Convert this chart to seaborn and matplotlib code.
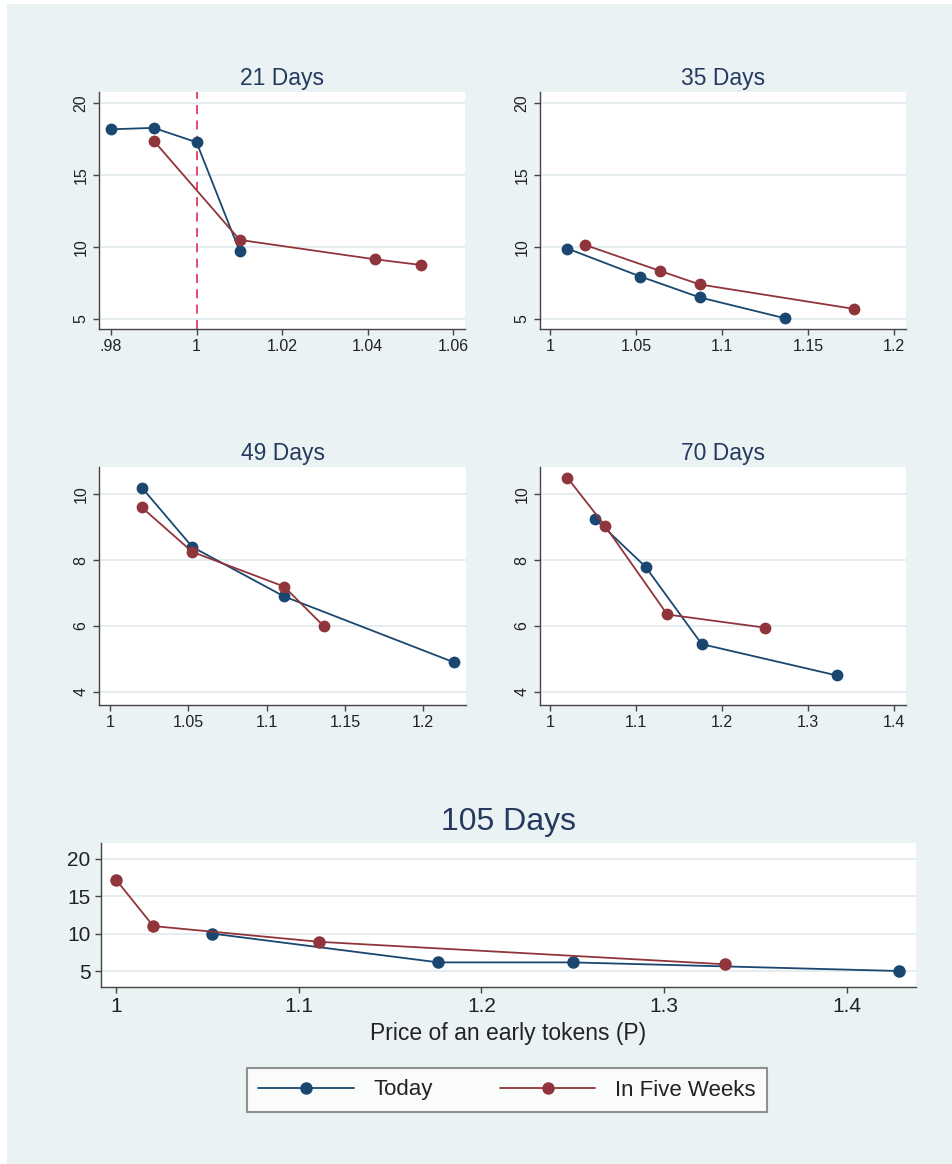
import matplotlib
matplotlib.use("Agg")
import matplotlib.pyplot as plt
from matplotlib.patches import Rectangle
import seaborn as sns

# prices (P) and values, one pair of series per horizon
p21_today_x = [0.98, 0.99, 1.0, 1.0101]
p21_today_y = [18.2, 18.3, 17.3, 9.7]
p21_weeks_x = [0.99, 1.0101, 1.0417, 1.0526]
p21_weeks_y = [17.4, 10.5, 9.15, 8.75]

p35_today_x = [1.0101, 1.0526, 1.0870, 1.1364]
p35_today_y = [9.9, 7.95, 6.5, 5.05]
p35_weeks_x = [1.0204, 1.0638, 1.0870, 1.1765]
p35_weeks_y = [10.15, 8.35, 7.4, 5.7]

p49_today_x = [1.0204, 1.0526, 1.1111, 1.2195]
p49_today_y = [10.2, 8.4, 6.9, 4.9]
p49_weeks_x = [1.0204, 1.0526, 1.1111, 1.1364]
p49_weeks_y = [9.6, 8.25, 7.2, 6.0]

p70_today_x = [1.0526, 1.1111, 1.1765, 1.3333]
p70_today_y = [9.25, 7.8, 5.45, 4.5]
p70_weeks_x = [1.0204, 1.0638, 1.1364, 1.25]
p70_weeks_y = [10.5, 9.05, 6.35, 5.95]

p105_today_x = [1.0526, 1.1765, 1.25, 1.4286]
p105_today_y = [10.0, 6.15, 6.15, 5.0]
p105_weeks_x = [1.0, 1.0204, 1.1111, 1.3333]
p105_weeks_y = [17.2, 11.0, 8.9, 5.9]

xt_21 = [0.98, 1.0, 1.02, 1.04, 1.06]
xl_21 = [".98", "1", "1.02", "1.04", "1.06"]
xt_05 = [1.0, 1.05, 1.1, 1.15, 1.2]
xl_05 = ["1", "1.05", "1.1", "1.15", "1.2"]
xt_10 = [1.0, 1.1, 1.2, 1.3, 1.4]
xl_10 = ["1", "1.1", "1.2", "1.3", "1.4"]
yt_big = [5, 10, 15, 20]
yt_small = [4, 6, 8, 10]

NAVY = "#1A476F"
MAROON = "#90353B"
BG = "#EAF2F3"
TITLE_C = "#243A5E"

sns.set_theme(style="white")
plt.rcParams["font.family"] = ["Liberation Sans", "DejaVu Sans"]

fig = plt.figure(figsize=(9.52, 11.64), dpi=100, facecolor="white")
fig.patches.append(Rectangle((7 / 952, 0), 1, 1 - 4 / 1164, transform=fig.transFigure,
                             facecolor=BG, edgecolor="none", zorder=-10))


def panel(rect, title, tx, ty, wx, wy, xlim, ylim, xt, xl, yt,
          big=False, vline=None):
    ax = fig.add_axes(rect)
    ax.set_facecolor("white")
    ms = 11 if big else 8.5
    sns.lineplot(x=tx, y=ty, color=NAVY, marker="o", markersize=ms, markeredgewidth=0,
                 linewidth=1.3, ax=ax, label="Today")
    sns.lineplot(x=wx, y=wy, color=MAROON, marker="o", markersize=ms, markeredgewidth=0,
                 linewidth=1.3, ax=ax, label="In Five Weeks")
    if vline is not None:
        ax.axvline(vline, color="#E03C64", lw=1.3, ls=(0, (5, 3.5)), zorder=1)
    ax.set_xlim(*xlim)
    ax.set_ylim(*ylim)
    ax.set_xticks(xt)
    ax.set_xticklabels(xl)
    ax.set_yticks(yt)
    ax.set_yticklabels([str(v) for v in yt])
    ax.yaxis.grid(True, color="#E3ECEF", lw=1.3)
    ax.set_axisbelow(True)
    for s in ["top", "right"]:
        ax.spines[s].set_visible(False)
    for s in ["left", "bottom"]:
        ax.spines[s].set_color("#444444")
        ax.spines[s].set_linewidth(1.0)
    fs = 15 if big else 11.5
    ax.tick_params(axis="both", direction="out", length=4, width=1, color="#444444",
                   labelsize=fs, labelcolor="#222222", bottom=True, left=True)
    if not big:
        for lab in ax.get_yticklabels():
            lab.set_rotation(90)
            lab.set_va("center")
    ax.set_title(title, color=TITLE_C, fontsize=23 if big else 16.5, pad=9 if big else 5)
    ax.set_xlabel("")
    ax.set_ylabel("")
    ax.get_legend().remove()
    return ax


panel([0.1040, 0.7174, 0.3845, 0.2036], "21 Days", p21_today_x, p21_today_y,
      p21_weeks_x, p21_weeks_y, (0.9772, 1.0628), (4.3, 20.8), xt_21, xl_21, yt_big,
      vline=1.0)
panel([0.5672, 0.7174, 0.3845, 0.2036], "35 Days", p35_today_x, p35_today_y,
      p35_weeks_x, p35_weeks_y, (0.9942, 1.2070), (4.3, 20.8), xt_05, xl_05, yt_big)
panel([0.1040, 0.3943, 0.3855, 0.2045], "49 Days", p49_today_x, p49_today_y,
      p49_weeks_x, p49_weeks_y, (0.993, 1.2273), (3.6, 10.83), xt_05, xl_05, yt_small)
panel([0.5672, 0.3943, 0.3845, 0.2045], "70 Days", p70_today_x, p70_today_y,
      p70_weeks_x, p70_weeks_y, (0.9884, 1.414), (3.6, 10.83), xt_10, xl_10, yt_small)
ax5 = panel([0.1061, 0.1521, 0.8561, 0.1237], "105 Days", p105_today_x, p105_today_y,
            p105_weeks_x, p105_weeks_y, (0.9918, 1.4379), (2.87, 22.1), xt_10, xl_10,
            yt_big, big=True)
ax5.set_xlabel("Price of an early tokens (P)", fontsize=16.5, color="#222222", labelpad=4)

handles, labels = ax5.get_legend_handles_labels()
for h in handles:
    h.set_markersize(9)
leg = fig.legend(handles, labels, loc="center", bbox_to_anchor=(507 / 952, 1 - 1090 / 1164),
                 ncol=2, fontsize=16, frameon=True, fancybox=False, handlelength=4.3,
                 handletextpad=0.9, columnspacing=3.0, borderpad=0.5)
leg.get_frame().set_edgecolor("#777777")
leg.get_frame().set_linewidth(1.5)
leg.get_frame().set_facecolor("white")
for t in leg.get_texts():
    t.set_color("#222222")

fig.savefig("out.png", dpi=100, facecolor=fig.get_facecolor())
